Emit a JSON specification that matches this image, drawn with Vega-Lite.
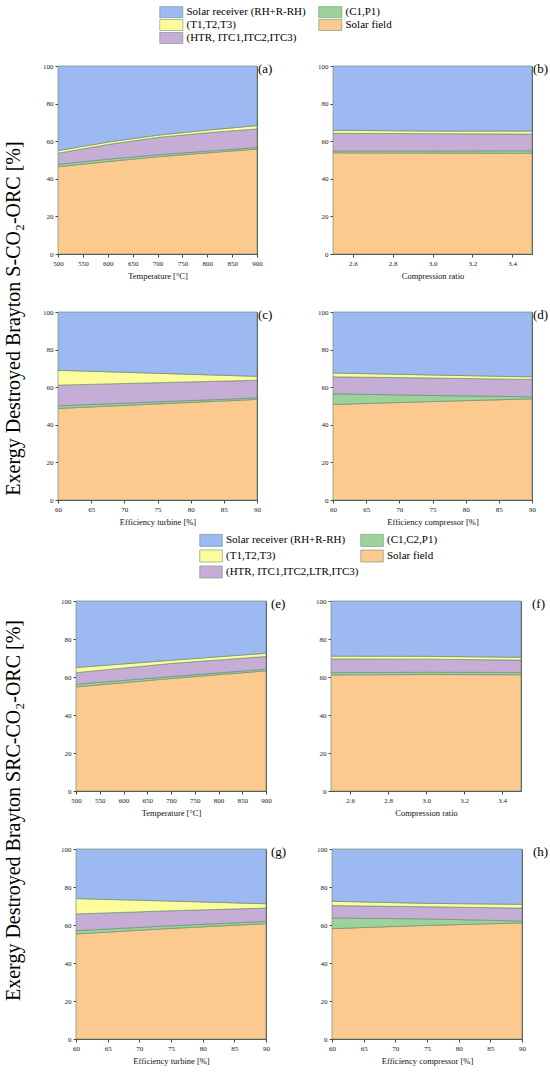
{
  "$schema": "https://vega.github.io/schema/vega-lite/v6.json",
  "padding": {"left": 3, "top": 6, "right": 3, "bottom": 2},
  "config": {
    "font": "Liberation Serif",
    "view": {"stroke": "#555", "strokeWidth": 1},
    "axis": {
      "labelFont": "Liberation Serif", "titleFont": "Liberation Serif",
      "labelFontSize": 7, "titleFontSize": 8.5, "titleFontWeight": "normal",
      "labelColor": "#222", "titleColor": "#111",
      "domainColor": "#444", "tickColor": "#444", "tickSize": 3,
      "grid": false, "labelPadding": 2, "titlePadding": 5,
      "labelFlush": false, "labelOverlap": false
    }
  },
  "datasets": {
    "k": [
      {"c": "Solar field", "k": 1},
      {"c": "(C1,P1)", "k": 2},
      {"c": "(C1,C2,P1)", "k": 2},
      {"c": "(HTR, ITC1,ITC2,ITC3)", "k": 3},
      {"c": "(HTR, ITC1,ITC2,LTR,ITC3)", "k": 3},
      {"c": "(T1,T2,T3)", "k": 4},
      {"c": "Solar receiver (RH+R-RH)", "k": 5}
    ],
    "s": [
      {"p": "a", "x": 500, "c": "Solar field", "v": 46.4},
      {"p": "a", "x": 500, "c": "(C1,P1)", "v": 1.3},
      {"p": "a", "x": 500, "c": "(HTR, ITC1,ITC2,ITC3)", "v": 5.9},
      {"p": "a", "x": 500, "c": "(T1,T2,T3)", "v": 1.4},
      {"p": "a", "x": 500, "c": "Solar receiver (RH+R-RH)", "v": 45.0},
      {"p": "a", "x": 600, "c": "Solar field", "v": 49.2},
      {"p": "a", "x": 600, "c": "(C1,P1)", "v": 1.2},
      {"p": "a", "x": 600, "c": "(HTR, ITC1,ITC2,ITC3)", "v": 7.8},
      {"p": "a", "x": 600, "c": "(T1,T2,T3)", "v": 1.3},
      {"p": "a", "x": 600, "c": "Solar receiver (RH+R-RH)", "v": 40.5},
      {"p": "a", "x": 700, "c": "Solar field", "v": 51.7},
      {"p": "a", "x": 700, "c": "(C1,P1)", "v": 1.1},
      {"p": "a", "x": 700, "c": "(HTR, ITC1,ITC2,ITC3)", "v": 9.2},
      {"p": "a", "x": 700, "c": "(T1,T2,T3)", "v": 1.2},
      {"p": "a", "x": 700, "c": "Solar receiver (RH+R-RH)", "v": 36.8},
      {"p": "a", "x": 800, "c": "Solar field", "v": 53.8},
      {"p": "a", "x": 800, "c": "(C1,P1)", "v": 0.9},
      {"p": "a", "x": 800, "c": "(HTR, ITC1,ITC2,ITC3)", "v": 9.8},
      {"p": "a", "x": 800, "c": "(T1,T2,T3)", "v": 1.4},
      {"p": "a", "x": 800, "c": "Solar receiver (RH+R-RH)", "v": 34.1},
      {"p": "a", "x": 900, "c": "Solar field", "v": 55.8},
      {"p": "a", "x": 900, "c": "(C1,P1)", "v": 0.8},
      {"p": "a", "x": 900, "c": "(HTR, ITC1,ITC2,ITC3)", "v": 9.9},
      {"p": "a", "x": 900, "c": "(T1,T2,T3)", "v": 1.8},
      {"p": "a", "x": 900, "c": "Solar receiver (RH+R-RH)", "v": 31.7},

      {"p": "b", "x": 2.5, "c": "Solar field", "v": 53.8},
      {"p": "b", "x": 2.5, "c": "(C1,P1)", "v": 1.0},
      {"p": "b", "x": 2.5, "c": "(HTR, ITC1,ITC2,ITC3)", "v": 9.4},
      {"p": "b", "x": 2.5, "c": "(T1,T2,T3)", "v": 1.6},
      {"p": "b", "x": 2.5, "c": "Solar receiver (RH+R-RH)", "v": 34.2},
      {"p": "b", "x": 3.0, "c": "Solar field", "v": 53.7},
      {"p": "b", "x": 3.0, "c": "(C1,P1)", "v": 1.1},
      {"p": "b", "x": 3.0, "c": "(HTR, ITC1,ITC2,ITC3)", "v": 9.2},
      {"p": "b", "x": 3.0, "c": "(T1,T2,T3)", "v": 1.4},
      {"p": "b", "x": 3.0, "c": "Solar receiver (RH+R-RH)", "v": 34.6},
      {"p": "b", "x": 3.5, "c": "Solar field", "v": 53.6},
      {"p": "b", "x": 3.5, "c": "(C1,P1)", "v": 1.3},
      {"p": "b", "x": 3.5, "c": "(HTR, ITC1,ITC2,ITC3)", "v": 8.9},
      {"p": "b", "x": 3.5, "c": "(T1,T2,T3)", "v": 1.6},
      {"p": "b", "x": 3.5, "c": "Solar receiver (RH+R-RH)", "v": 34.6},

      {"p": "c", "x": 60, "c": "Solar field", "v": 48.7},
      {"p": "c", "x": 60, "c": "(C1,P1)", "v": 1.4},
      {"p": "c", "x": 60, "c": "(HTR, ITC1,ITC2,ITC3)", "v": 11.0},
      {"p": "c", "x": 60, "c": "(T1,T2,T3)", "v": 7.9},
      {"p": "c", "x": 60, "c": "Solar receiver (RH+R-RH)", "v": 31.0},
      {"p": "c", "x": 75, "c": "Solar field", "v": 51.1},
      {"p": "c", "x": 75, "c": "(C1,P1)", "v": 1.1},
      {"p": "c", "x": 75, "c": "(HTR, ITC1,ITC2,ITC3)", "v": 10.2},
      {"p": "c", "x": 75, "c": "(T1,T2,T3)", "v": 5.0},
      {"p": "c", "x": 75, "c": "Solar receiver (RH+R-RH)", "v": 32.6},
      {"p": "c", "x": 90, "c": "Solar field", "v": 53.5},
      {"p": "c", "x": 90, "c": "(C1,P1)", "v": 0.8},
      {"p": "c", "x": 90, "c": "(HTR, ITC1,ITC2,ITC3)", "v": 9.4},
      {"p": "c", "x": 90, "c": "(T1,T2,T3)", "v": 2.1},
      {"p": "c", "x": 90, "c": "Solar receiver (RH+R-RH)", "v": 34.2},

      {"p": "d", "x": 60, "c": "Solar field", "v": 50.8},
      {"p": "d", "x": 60, "c": "(C1,P1)", "v": 5.7},
      {"p": "d", "x": 60, "c": "(HTR, ITC1,ITC2,ITC3)", "v": 9.0},
      {"p": "d", "x": 60, "c": "(T1,T2,T3)", "v": 2.1},
      {"p": "d", "x": 60, "c": "Solar receiver (RH+R-RH)", "v": 32.4},
      {"p": "d", "x": 75, "c": "Solar field", "v": 52.4},
      {"p": "d", "x": 75, "c": "(C1,P1)", "v": 3.2},
      {"p": "d", "x": 75, "c": "(HTR, ITC1,ITC2,ITC3)", "v": 9.3},
      {"p": "d", "x": 75, "c": "(T1,T2,T3)", "v": 1.6},
      {"p": "d", "x": 75, "c": "Solar receiver (RH+R-RH)", "v": 33.5},
      {"p": "d", "x": 90, "c": "Solar field", "v": 53.8},
      {"p": "d", "x": 90, "c": "(C1,P1)", "v": 1.1},
      {"p": "d", "x": 90, "c": "(HTR, ITC1,ITC2,ITC3)", "v": 9.2},
      {"p": "d", "x": 90, "c": "(T1,T2,T3)", "v": 1.4},
      {"p": "d", "x": 90, "c": "Solar receiver (RH+R-RH)", "v": 34.5}
    ],
    "r": [
      {"p": "e", "x": 500, "c": "Solar field", "v": 54.8},
      {"p": "e", "x": 500, "c": "(C1,C2,P1)", "v": 1.4},
      {"p": "e", "x": 500, "c": "(HTR, ITC1,ITC2,LTR,ITC3)", "v": 6.1},
      {"p": "e", "x": 500, "c": "(T1,T2,T3)", "v": 2.7},
      {"p": "e", "x": 500, "c": "Solar receiver (RH+R-RH)", "v": 35.0},
      {"p": "e", "x": 700, "c": "Solar field", "v": 59.2},
      {"p": "e", "x": 700, "c": "(C1,C2,P1)", "v": 1.0},
      {"p": "e", "x": 700, "c": "(HTR, ITC1,ITC2,LTR,ITC3)", "v": 6.9},
      {"p": "e", "x": 700, "c": "(T1,T2,T3)", "v": 1.7},
      {"p": "e", "x": 700, "c": "Solar receiver (RH+R-RH)", "v": 31.2},
      {"p": "e", "x": 900, "c": "Solar field", "v": 63.2},
      {"p": "e", "x": 900, "c": "(C1,C2,P1)", "v": 0.9},
      {"p": "e", "x": 900, "c": "(HTR, ITC1,ITC2,LTR,ITC3)", "v": 6.7},
      {"p": "e", "x": 900, "c": "(T1,T2,T3)", "v": 1.7},
      {"p": "e", "x": 900, "c": "Solar receiver (RH+R-RH)", "v": 27.5},

      {"p": "f", "x": 2.5, "c": "Solar field", "v": 61.1},
      {"p": "f", "x": 2.5, "c": "(C1,C2,P1)", "v": 1.2},
      {"p": "f", "x": 2.5, "c": "(HTR, ITC1,ITC2,LTR,ITC3)", "v": 7.2},
      {"p": "f", "x": 2.5, "c": "(T1,T2,T3)", "v": 1.5},
      {"p": "f", "x": 2.5, "c": "Solar receiver (RH+R-RH)", "v": 29.0},
      {"p": "f", "x": 3.0, "c": "Solar field", "v": 61.3},
      {"p": "f", "x": 3.0, "c": "(C1,C2,P1)", "v": 1.2},
      {"p": "f", "x": 3.0, "c": "(HTR, ITC1,ITC2,LTR,ITC3)", "v": 6.9},
      {"p": "f", "x": 3.0, "c": "(T1,T2,T3)", "v": 1.5},
      {"p": "f", "x": 3.0, "c": "Solar receiver (RH+R-RH)", "v": 29.1},
      {"p": "f", "x": 3.5, "c": "Solar field", "v": 61.2},
      {"p": "f", "x": 3.5, "c": "(C1,C2,P1)", "v": 1.2},
      {"p": "f", "x": 3.5, "c": "(HTR, ITC1,ITC2,LTR,ITC3)", "v": 6.5},
      {"p": "f", "x": 3.5, "c": "(T1,T2,T3)", "v": 1.5},
      {"p": "f", "x": 3.5, "c": "Solar receiver (RH+R-RH)", "v": 29.6},

      {"p": "g", "x": 60, "c": "Solar field", "v": 55.3},
      {"p": "g", "x": 60, "c": "(C1,C2,P1)", "v": 1.7},
      {"p": "g", "x": 60, "c": "(HTR, ITC1,ITC2,LTR,ITC3)", "v": 8.8},
      {"p": "g", "x": 60, "c": "(T1,T2,T3)", "v": 8.1},
      {"p": "g", "x": 60, "c": "Solar receiver (RH+R-RH)", "v": 26.1},
      {"p": "g", "x": 75, "c": "Solar field", "v": 58.2},
      {"p": "g", "x": 75, "c": "(C1,C2,P1)", "v": 1.4},
      {"p": "g", "x": 75, "c": "(HTR, ITC1,ITC2,LTR,ITC3)", "v": 7.9},
      {"p": "g", "x": 75, "c": "(T1,T2,T3)", "v": 5.1},
      {"p": "g", "x": 75, "c": "Solar receiver (RH+R-RH)", "v": 27.4},
      {"p": "g", "x": 90, "c": "Solar field", "v": 60.7},
      {"p": "g", "x": 90, "c": "(C1,C2,P1)", "v": 1.2},
      {"p": "g", "x": 90, "c": "(HTR, ITC1,ITC2,LTR,ITC3)", "v": 7.0},
      {"p": "g", "x": 90, "c": "(T1,T2,T3)", "v": 2.3},
      {"p": "g", "x": 90, "c": "Solar receiver (RH+R-RH)", "v": 28.8},

      {"p": "h", "x": 60, "c": "Solar field", "v": 58.1},
      {"p": "h", "x": 60, "c": "(C1,C2,P1)", "v": 5.6},
      {"p": "h", "x": 60, "c": "(HTR, ITC1,ITC2,LTR,ITC3)", "v": 6.5},
      {"p": "h", "x": 60, "c": "(T1,T2,T3)", "v": 2.3},
      {"p": "h", "x": 60, "c": "Solar receiver (RH+R-RH)", "v": 27.5},
      {"p": "h", "x": 75, "c": "Solar field", "v": 59.8},
      {"p": "h", "x": 75, "c": "(C1,C2,P1)", "v": 3.4},
      {"p": "h", "x": 75, "c": "(HTR, ITC1,ITC2,LTR,ITC3)", "v": 6.4},
      {"p": "h", "x": 75, "c": "(T1,T2,T3)", "v": 1.8},
      {"p": "h", "x": 75, "c": "Solar receiver (RH+R-RH)", "v": 28.6},
      {"p": "h", "x": 90, "c": "Solar field", "v": 61.1},
      {"p": "h", "x": 90, "c": "(C1,C2,P1)", "v": 1.0},
      {"p": "h", "x": 90, "c": "(HTR, ITC1,ITC2,LTR,ITC3)", "v": 6.8},
      {"p": "h", "x": 90, "c": "(T1,T2,T3)", "v": 2.0},
      {"p": "h", "x": 90, "c": "Solar receiver (RH+R-RH)", "v": 29.1}
    ]
  },
  "spacing": 8,
  "resolve": {"scale": {"color": "independent"}, "legend": {"color": "independent"}},
  "vconcat": [
    {
      "spacing": 11,
      "hconcat": [
        {
          "width": 1, "height": 433,
          "view": {"stroke": null},
          "data": {"values": [{}]},
          "mark": {"type": "point", "opacity": 0},
          "encoding": {
            "y": {"datum": 0, "type": "quantitative", "scale": {"domain": [0, 1]},
              "axis": {"title": "Exergy Destroyed Brayton S-CO₂-ORC [%]", "labels": false, "ticks": false, "domain": false, "titleFontSize": 20, "titleColor": "#000", "titlePadding": 4, "titleY": 252}}
          }
        },
        {
          "data": {"name": "s"},
          "spacing": 27,
          "vconcat": [
            {
              "spacing": 44,
              "hconcat": [
                {
                  "width": 199, "height": 188,
                  "layer": [
                    {
                      "transform": [{"filter": "datum.p == 'a'"}, {"lookup": "c", "from": {"data": {"name": "k"}, "key": "c", "fields": ["k"]}}],
                      "mark": {"type": "area", "stroke": "#6f8f78", "strokeWidth": 0.7},
                      "encoding": {
                        "x": {"field": "x", "type": "quantitative", "title": "Temperature [°C]", "scale": {"domain": [500, 900], "nice": false, "zero": false}, "axis": {"values": [500, 550, 600, 650, 700, 750, 800, 850, 900], "tickCount": 20, "labelOverlap": false}},
                        "y": {"field": "v", "type": "quantitative", "stack": "zero", "title": null, "scale": {"domain": [0, 100], "nice": false}, "axis": {"values": [0, 20, 40, 60, 80, 100], "tickCount": 20, "labelOverlap": false}},
                        "color": {"field": "c", "type": "nominal",
                          "scale": {"domain": ["Solar receiver (RH+R-RH)", "(T1,T2,T3)", "(HTR, ITC1,ITC2,ITC3)", "(C1,P1)", "Solar field"], "range": ["#9db9f1", "#fdfc9c", "#c6add6", "#9dd39b", "#fcc98f"]},
                          "legend": {"orient": "none", "legendX": 132, "legendY": -60, "columns": 2, "title": null, "symbolType": "M-1,-1.05H3.4V1.05H-1Z", "symbolSize": 110, "symbolStrokeColor": "#999", "symbolStrokeWidth": 0.6, "symbolOpacity": 1, "labelFontSize": 11, "labelColor": "#000", "labelOffset": 15.5, "rowPadding": -1.5, "columnPadding": 11, "padding": 0}},
                        "order": {"field": "k", "type": "quantitative"}
                      }
                    },
                    {
                      "data": {"values": [{}]},
                      "mark": {"type": "text", "text": "(a)", "align": "left", "baseline": "top", "dx": 1, "dy": -3, "fontSize": 13},
                      "encoding": {"x": {"datum": 900}, "y": {"datum": 100}}
                    }
                  ]
                },
                {
                  "width": 199, "height": 188,
                  "layer": [
                    {
                      "transform": [{"filter": "datum.p == 'b'"}, {"lookup": "c", "from": {"data": {"name": "k"}, "key": "c", "fields": ["k"]}}],
                      "mark": {"type": "area", "stroke": "#6f8f78", "strokeWidth": 0.7},
                      "encoding": {
                        "x": {"field": "x", "type": "quantitative", "title": "Compression ratio", "scale": {"domain": [2.5, 3.5], "nice": false, "zero": false}, "axis": {"values": [2.6, 2.8, 3.0, 3.2, 3.4], "format": ".1f", "tickCount": 20, "labelOverlap": false}},
                        "y": {"field": "v", "type": "quantitative", "stack": "zero", "title": null, "scale": {"domain": [0, 100], "nice": false}, "axis": {"values": [0, 20, 40, 60, 80, 100], "tickCount": 20, "labelOverlap": false}},
                        "color": {"field": "c", "type": "nominal",
                          "scale": {"domain": ["Solar receiver (RH+R-RH)", "(T1,T2,T3)", "(HTR, ITC1,ITC2,ITC3)", "(C1,P1)", "Solar field"], "range": ["#9db9f1", "#fdfc9c", "#c6add6", "#9dd39b", "#fcc98f"]}},
                        "order": {"field": "k", "type": "quantitative"}
                      }
                    },
                    {
                      "data": {"values": [{}]},
                      "mark": {"type": "text", "text": "(b)", "align": "left", "baseline": "top", "dx": 1, "dy": -3, "fontSize": 13},
                      "encoding": {"x": {"datum": 3.5}, "y": {"datum": 100}}
                    }
                  ]
                }
              ]
            },
            {
              "spacing": 44,
              "hconcat": [
                {
                  "width": 199, "height": 188,
                  "layer": [
                    {
                      "transform": [{"filter": "datum.p == 'c'"}, {"lookup": "c", "from": {"data": {"name": "k"}, "key": "c", "fields": ["k"]}}],
                      "mark": {"type": "area", "stroke": "#6f8f78", "strokeWidth": 0.7},
                      "encoding": {
                        "x": {"field": "x", "type": "quantitative", "title": "Efficiency turbine [%]", "scale": {"domain": [60, 90], "nice": false, "zero": false}, "axis": {"values": [60, 65, 70, 75, 80, 85, 90], "tickCount": 20, "labelOverlap": false}},
                        "y": {"field": "v", "type": "quantitative", "stack": "zero", "title": null, "scale": {"domain": [0, 100], "nice": false}, "axis": {"values": [0, 20, 40, 60, 80, 100], "tickCount": 20, "labelOverlap": false}},
                        "color": {"field": "c", "type": "nominal",
                          "scale": {"domain": ["Solar receiver (RH+R-RH)", "(T1,T2,T3)", "(HTR, ITC1,ITC2,ITC3)", "(C1,P1)", "Solar field"], "range": ["#9db9f1", "#fdfc9c", "#c6add6", "#9dd39b", "#fcc98f"]}},
                        "order": {"field": "k", "type": "quantitative"}
                      }
                    },
                    {
                      "data": {"values": [{}]},
                      "mark": {"type": "text", "text": "(c)", "align": "left", "baseline": "top", "dx": 1, "dy": -3, "fontSize": 13},
                      "encoding": {"x": {"datum": 90}, "y": {"datum": 100}}
                    }
                  ]
                },
                {
                  "width": 199, "height": 188,
                  "layer": [
                    {
                      "transform": [{"filter": "datum.p == 'd'"}, {"lookup": "c", "from": {"data": {"name": "k"}, "key": "c", "fields": ["k"]}}],
                      "mark": {"type": "area", "stroke": "#6f8f78", "strokeWidth": 0.7},
                      "encoding": {
                        "x": {"field": "x", "type": "quantitative", "title": "Efficiency compressor [%]", "scale": {"domain": [60, 90], "nice": false, "zero": false}, "axis": {"values": [60, 65, 70, 75, 80, 85, 90], "tickCount": 20, "labelOverlap": false}},
                        "y": {"field": "v", "type": "quantitative", "stack": "zero", "title": null, "scale": {"domain": [0, 100], "nice": false}, "axis": {"values": [0, 20, 40, 60, 80, 100], "tickCount": 20, "labelOverlap": false}},
                        "color": {"field": "c", "type": "nominal",
                          "scale": {"domain": ["Solar receiver (RH+R-RH)", "(T1,T2,T3)", "(HTR, ITC1,ITC2,ITC3)", "(C1,P1)", "Solar field"], "range": ["#9db9f1", "#fdfc9c", "#c6add6", "#9dd39b", "#fcc98f"]}},
                        "order": {"field": "k", "type": "quantitative"}
                      }
                    },
                    {
                      "data": {"values": [{}]},
                      "mark": {"type": "text", "text": "(d)", "align": "left", "baseline": "top", "dx": 1, "dy": -3, "fontSize": 13},
                      "encoding": {"x": {"datum": 90}, "y": {"datum": 100}}
                    }
                  ]
                }
              ]
            }
          ]
        }
      ]
    },
    {
      "spacing": 29,
      "hconcat": [
        {
          "width": 1, "height": 437,
          "view": {"stroke": null},
          "data": {"values": [{}]},
          "mark": {"type": "point", "opacity": 0},
          "encoding": {
            "y": {"datum": 0, "type": "quantitative", "scale": {"domain": [0, 1]},
              "axis": {"title": "Exergy Destroyed Brayton SRC-CO₂-ORC [%]", "labels": false, "ticks": false, "domain": false, "titleFontSize": 20, "titleColor": "#000", "titlePadding": 4, "titleY": 209}}
          }
        },
        {
          "data": {"name": "r"},
          "spacing": 27,
          "vconcat": [
            {
              "spacing": 29,
              "hconcat": [
                {
                  "width": 190, "height": 190,
                  "layer": [
                    {
                      "transform": [{"filter": "datum.p == 'e'"}, {"lookup": "c", "from": {"data": {"name": "k"}, "key": "c", "fields": ["k"]}}],
                      "mark": {"type": "area", "stroke": "#6f8f78", "strokeWidth": 0.7},
                      "encoding": {
                        "x": {"field": "x", "type": "quantitative", "title": "Temperature [°C]", "scale": {"domain": [500, 900], "nice": false, "zero": false}, "axis": {"values": [500, 550, 600, 650, 700, 750, 800, 850, 900], "tickCount": 20, "labelOverlap": false}},
                        "y": {"field": "v", "type": "quantitative", "stack": "zero", "title": null, "scale": {"domain": [0, 100], "nice": false}, "axis": {"values": [0, 20, 40, 60, 80, 100], "tickCount": 20, "labelOverlap": false}},
                        "color": {"field": "c", "type": "nominal",
                          "scale": {"domain": ["Solar receiver (RH+R-RH)", "(T1,T2,T3)", "(HTR, ITC1,ITC2,LTR,ITC3)", "(C1,C2,P1)", "Solar field"], "range": ["#9db9f1", "#fdfc9c", "#c6add6", "#9dd39b", "#fcc98f"]},
                          "legend": {"orient": "none", "legendX": 172, "legendY": -67, "columns": 2, "title": null, "symbolType": "M-1,-1.15H3.3V1.15H-1Z", "symbolSize": 110, "symbolStrokeColor": "#999", "symbolStrokeWidth": 0.6, "symbolOpacity": 1, "labelFontSize": 11, "labelColor": "#000", "labelOffset": 15, "rowPadding": 0, "columnPadding": 0, "padding": 0}},
                        "order": {"field": "k", "type": "quantitative"}
                      }
                    },
                    {
                      "data": {"values": [{}]},
                      "mark": {"type": "text", "text": "(e)", "align": "left", "baseline": "top", "dx": 5, "dy": -3, "fontSize": 13},
                      "encoding": {"x": {"datum": 900}, "y": {"datum": 100}}
                    }
                  ]
                },
                {
                  "width": 190, "height": 190,
                  "layer": [
                    {
                      "transform": [{"filter": "datum.p == 'f'"}, {"lookup": "c", "from": {"data": {"name": "k"}, "key": "c", "fields": ["k"]}}],
                      "mark": {"type": "area", "stroke": "#6f8f78", "strokeWidth": 0.7},
                      "encoding": {
                        "x": {"field": "x", "type": "quantitative", "title": "Compression ratio", "scale": {"domain": [2.5, 3.5], "nice": false, "zero": false}, "axis": {"values": [2.6, 2.8, 3.0, 3.2, 3.4], "format": ".1f", "tickCount": 20, "labelOverlap": false}},
                        "y": {"field": "v", "type": "quantitative", "stack": "zero", "title": null, "scale": {"domain": [0, 100], "nice": false}, "axis": {"values": [0, 20, 40, 60, 80, 100], "tickCount": 20, "labelOverlap": false}},
                        "color": {"field": "c", "type": "nominal",
                          "scale": {"domain": ["Solar receiver (RH+R-RH)", "(T1,T2,T3)", "(HTR, ITC1,ITC2,LTR,ITC3)", "(C1,C2,P1)", "Solar field"], "range": ["#9db9f1", "#fdfc9c", "#c6add6", "#9dd39b", "#fcc98f"]}},
                        "order": {"field": "k", "type": "quantitative"}
                      }
                    },
                    {
                      "data": {"values": [{}]},
                      "mark": {"type": "text", "text": "(f)", "align": "left", "baseline": "top", "dx": 11, "dy": -3, "fontSize": 13},
                      "encoding": {"x": {"datum": 3.5}, "y": {"datum": 100}}
                    }
                  ]
                }
              ]
            },
            {
              "spacing": 29,
              "hconcat": [
                {
                  "width": 190, "height": 190,
                  "layer": [
                    {
                      "transform": [{"filter": "datum.p == 'g'"}, {"lookup": "c", "from": {"data": {"name": "k"}, "key": "c", "fields": ["k"]}}],
                      "mark": {"type": "area", "stroke": "#6f8f78", "strokeWidth": 0.7},
                      "encoding": {
                        "x": {"field": "x", "type": "quantitative", "title": "Efficiency turbine [%]", "scale": {"domain": [60, 90], "nice": false, "zero": false}, "axis": {"values": [60, 65, 70, 75, 80, 85, 90], "tickCount": 20, "labelOverlap": false}},
                        "y": {"field": "v", "type": "quantitative", "stack": "zero", "title": null, "scale": {"domain": [0, 100], "nice": false}, "axis": {"values": [0, 20, 40, 60, 80, 100], "tickCount": 20, "labelOverlap": false}},
                        "color": {"field": "c", "type": "nominal",
                          "scale": {"domain": ["Solar receiver (RH+R-RH)", "(T1,T2,T3)", "(HTR, ITC1,ITC2,LTR,ITC3)", "(C1,C2,P1)", "Solar field"], "range": ["#9db9f1", "#fdfc9c", "#c6add6", "#9dd39b", "#fcc98f"]}},
                        "order": {"field": "k", "type": "quantitative"}
                      }
                    },
                    {
                      "data": {"values": [{}]},
                      "mark": {"type": "text", "text": "(g)", "align": "left", "baseline": "top", "dx": 5, "dy": -3, "fontSize": 13},
                      "encoding": {"x": {"datum": 90}, "y": {"datum": 100}}
                    }
                  ]
                },
                {
                  "width": 190, "height": 190,
                  "layer": [
                    {
                      "transform": [{"filter": "datum.p == 'h'"}, {"lookup": "c", "from": {"data": {"name": "k"}, "key": "c", "fields": ["k"]}}],
                      "mark": {"type": "area", "stroke": "#6f8f78", "strokeWidth": 0.7},
                      "encoding": {
                        "x": {"field": "x", "type": "quantitative", "title": "Efficiency compressor [%]", "scale": {"domain": [60, 90], "nice": false, "zero": false}, "axis": {"values": [60, 65, 70, 75, 80, 85, 90], "tickCount": 20, "labelOverlap": false}},
                        "y": {"field": "v", "type": "quantitative", "stack": "zero", "title": null, "scale": {"domain": [0, 100], "nice": false}, "axis": {"values": [0, 20, 40, 60, 80, 100], "tickCount": 20, "labelOverlap": false}},
                        "color": {"field": "c", "type": "nominal",
                          "scale": {"domain": ["Solar receiver (RH+R-RH)", "(T1,T2,T3)", "(HTR, ITC1,ITC2,LTR,ITC3)", "(C1,C2,P1)", "Solar field"], "range": ["#9db9f1", "#fdfc9c", "#c6add6", "#9dd39b", "#fcc98f"]}},
                        "order": {"field": "k", "type": "quantitative"}
                      }
                    },
                    {
                      "data": {"values": [{}]},
                      "mark": {"type": "text", "text": "(h)", "align": "left", "baseline": "top", "dx": 11, "dy": -3, "fontSize": 13},
                      "encoding": {"x": {"datum": 90}, "y": {"datum": 100}}
                    }
                  ]
                }
              ]
            }
          ]
        }
      ]
    }
  ]
}
